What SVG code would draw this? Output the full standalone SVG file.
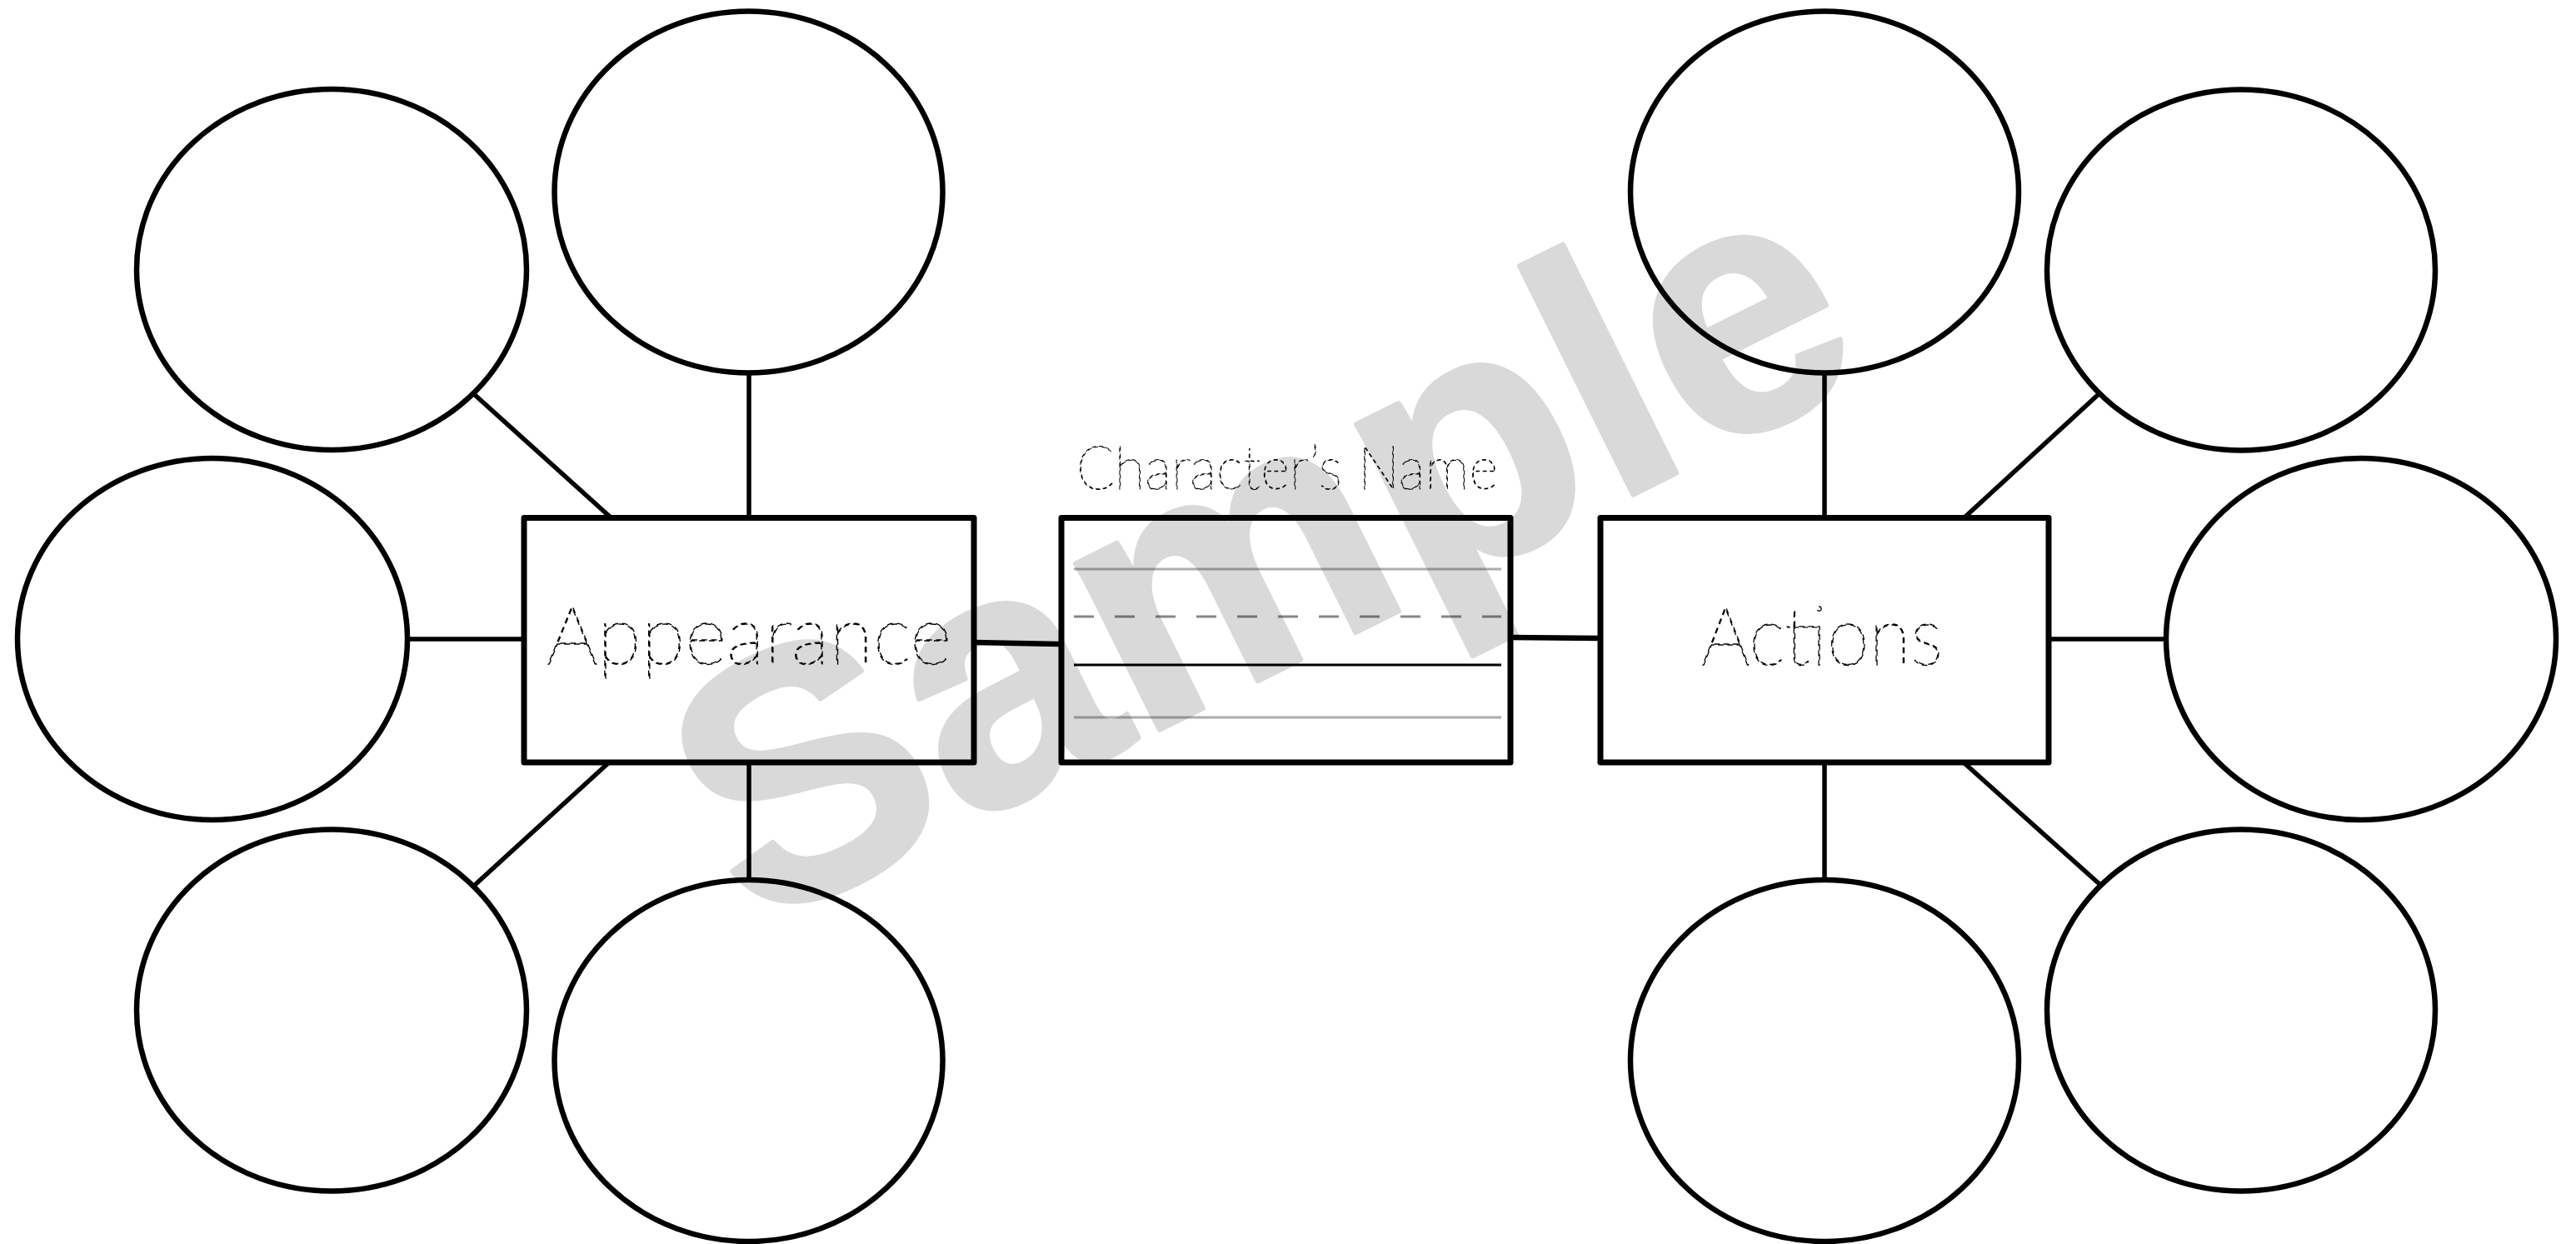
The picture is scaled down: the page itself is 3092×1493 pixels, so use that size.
<svg xmlns="http://www.w3.org/2000/svg" width="3092" height="1493" viewBox="0 0 3092 1493">
  <style>
    .bubble { fill: none; stroke: #000; stroke-width: 6.5; }
    .box { fill: none; stroke: #000; stroke-width: 7; stroke-linejoin: round; }
    .link { stroke: #000; stroke-width: 5.5; fill: none; }
    .link-thick { stroke: #000; stroke-width: 6.5; fill: none; }
    .trace { font-family: "Lato", "Roboto", "Inter", "DejaVu Sans", sans-serif; font-weight: 100; fill: none; stroke: #000; stroke-width: 1.4; stroke-dasharray: 7 5; }
    .trace-sm { stroke-width: 1.1; stroke-dasharray: 5 4; }
    .guide { stroke: #000; stroke-width: 3; fill: none; }
    .guide-light { stroke-opacity: 0.32; }
    .guide-mid { stroke-opacity: 0.47; stroke-dasharray: 24 25; }
    .stamp { font-family: "Liberation Sans", Arial, sans-serif; font-weight: bold; fill: #d9d9d9; stroke: #d9d9d9; stroke-width: 6; stroke-linejoin: round; }
  </style>
  <rect width="3092" height="1493" fill="#fff"/>

  <!-- watermark -->
  <text class="stamp" font-size="423" transform="translate(902 1119) rotate(-26.4)">Sample</text>

  <!-- connectors -->
  <g id="connectors">
    <!-- Appearance branch -->
    <line class="link" x1="570" y1="474" x2="733" y2="621"/>
    <line class="link" x1="899" y1="447" x2="899" y2="621"/>
    <line class="link" x1="487" y1="767" x2="629" y2="767"/>
    <line class="link" x1="731" y1="915" x2="570" y2="1062"/>
    <line class="link" x1="899" y1="915" x2="899" y2="1056"/>
    <!-- centre links -->
    <line class="link-thick" x1="1169" y1="771" x2="1274" y2="773"/>
    <line class="link-thick" x1="1813" y1="765" x2="1921" y2="766"/>
    <!-- Actions branch -->
    <line class="link" x1="2190" y1="447" x2="2190" y2="621"/>
    <line class="link" x1="2358" y1="621" x2="2518" y2="474"/>
    <line class="link" x1="2459" y1="767" x2="2600" y2="767"/>
    <line class="link" x1="2358" y1="916" x2="2520" y2="1061"/>
    <line class="link" x1="2190" y1="915" x2="2190" y2="1056"/>
  </g>

  <!-- Appearance hub -->
  <g id="appearance">
    <rect class="box" x="629" y="621.5" width="540" height="293.5"/>
    <text class="trace" x="656" y="797" font-size="99" textLength="486" lengthAdjust="spacingAndGlyphs">Appearance</text>
  </g>

  <!-- Character name -->
  <g id="character-name">
    <text class="trace trace-sm" x="1292" y="587" font-size="72" textLength="506" lengthAdjust="spacingAndGlyphs">Character’s Name</text>
    <rect class="box" x="1274" y="621.5" width="539" height="293.5"/>
    <line class="guide guide-light" x1="1289" y1="683" x2="1802" y2="683"/>
    <line class="guide guide-mid" x1="1289" y1="740" x2="1802" y2="740"/>
    <line class="guide" x1="1289" y1="798" x2="1802" y2="798"/>
    <line class="guide guide-light" x1="1289" y1="861" x2="1802" y2="861"/>
  </g>

  <!-- Actions hub -->
  <g id="actions">
    <rect class="box" x="1921" y="621.5" width="538" height="293.5"/>
    <text class="trace" x="2042" y="798" font-size="99" textLength="290" lengthAdjust="spacingAndGlyphs">Actions</text>
  </g>

  <!-- Appearance bubbles -->
  <g id="appearance-1"><ellipse class="bubble" cx="398" cy="323.5" rx="234" ry="216.5"/></g>
  <g id="appearance-2"><ellipse class="bubble" cx="898.5" cy="230.5" rx="233" ry="217"/></g>
  <g id="appearance-3"><ellipse class="bubble" cx="255" cy="767" rx="234" ry="217"/></g>
  <g id="appearance-4"><ellipse class="bubble" cx="398" cy="1212.5" rx="234" ry="217"/></g>
  <g id="appearance-5"><ellipse class="bubble" cx="898.5" cy="1273" rx="233" ry="217"/></g>

  <!-- Actions bubbles -->
  <g id="actions-1"><ellipse class="bubble" cx="2190" cy="230.5" rx="233" ry="217"/></g>
  <g id="actions-2"><ellipse class="bubble" cx="2690" cy="324" rx="233" ry="216.5"/></g>
  <g id="actions-3"><ellipse class="bubble" cx="2834" cy="767" rx="234" ry="217"/></g>
  <g id="actions-4"><ellipse class="bubble" cx="2690" cy="1212.5" rx="233" ry="217"/></g>
  <g id="actions-5"><ellipse class="bubble" cx="2190" cy="1273" rx="233" ry="217"/></g>
</svg>
